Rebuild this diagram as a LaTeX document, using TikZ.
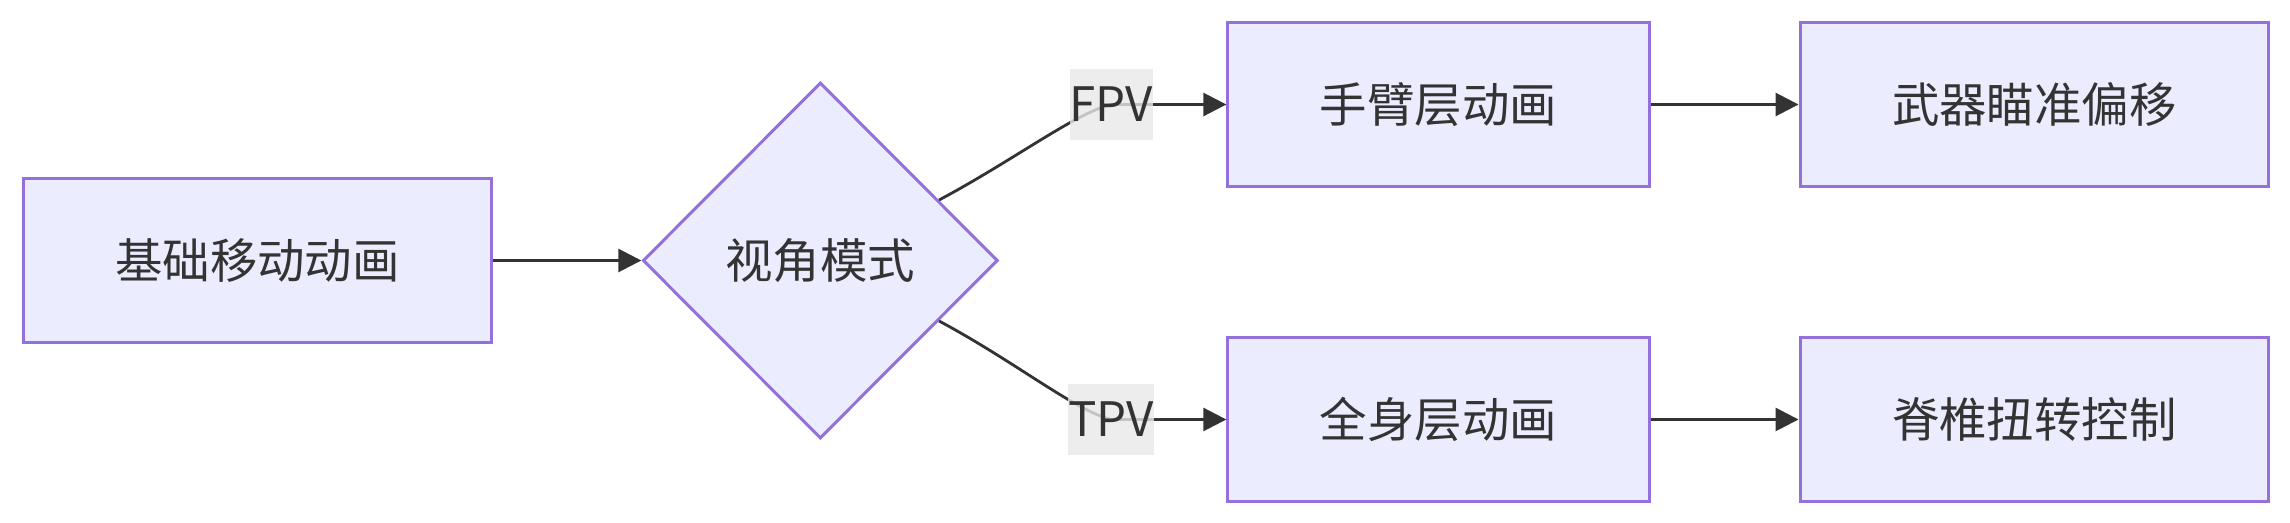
\documentclass[tikz,border=0pt]{standalone}
\usepackage{fontspec}
\setmainfont{Noto Sans CJK SC}
\usepackage{tikz}
\usetikzlibrary{arrows.meta,positioning,shapes.geometric}
\definecolor{boxfill}{HTML}{ECECFF}
\definecolor{boxline}{HTML}{9370DB}
\definecolor{darkline}{HTML}{333333}
\definecolor{taggray}{HTML}{E8E8E8}
\tikzset{
anim_box/.style={
	% The shape:
	rectangle,
	% The size:
	minimum height=16.4mm,
	inner xsep=9.2mm,
	% The border:
	line width=0.85pt,
	draw=boxline,
	% The filling:
	fill=boxfill,
	% Font
	text=darkline,
	font=\fontsize{13.5pt}{16pt}\selectfont
},
mode_diamond/.style={
	anim_box,
	% a diamond of fixed size
	diamond,
	aspect=1,
	minimum width=35.5mm,
	minimum height=35.6mm,
	inner sep=0pt
},
edge_tag/.style={
	% grey label box, a bit see-through
	fill=taggray,
	fill opacity=0.8,
	text opacity=1,
	text=darkline,
	inner xsep=0pt,
	minimum height=7.1mm,
	font=\fontsize{13.5pt}{16pt}\selectfont
}
}

\begin{document}
\begin{tikzpicture}[x=0.1mm,y=-0.1mm,->,>={Triangle[length=2.3mm,width=2.3mm]},node distance=1.48cm,
	flow/.style={draw=darkline,line width=0.8pt}]
			\useasboundingbox (0,0) rectangle (2290,522);
			\node[anim_box] (base) at (257.5,260.5) {基础移动动画};
			\node[mode_diamond] (mode)[right=1.48cm of base] {视角模式};
			\node[anim_box] (arm)[right=2.27cm of mode,yshift=1.56cm] {手臂层动画};
			\node[anim_box] (aim)[right=of arm] {武器瞄准偏移};
			\node[anim_box] (body)[below=of arm] {全身层动画};
			\node[anim_box] (spine)[right=of body] {脊椎扭转控制};

			\coordinate (fpv_at) at ([xshift=-11.5mm]arm.west);
			\coordinate (tpv_at) at ([xshift=-11.5mm]body.west);

			\draw[flow] (base) -- (mode);
			\draw[flow] (mode.27) .. controls +(75,-40) and ([xshift=-3.5mm,yshift=-0.8mm]fpv_at) .. (fpv_at) node[edge_tag] (fpv) {FPV} -- (arm.west);
			\draw[flow] (mode.-27) .. controls +(75,40) and ([xshift=-3.5mm,yshift=0.8mm]tpv_at) .. (tpv_at) node[edge_tag] (tpv) {TPV} -- (body.west);
			\draw[flow] (arm) -- (aim);
			\draw[flow] (body) -- (spine);
		\end{tikzpicture}
\end{document}
